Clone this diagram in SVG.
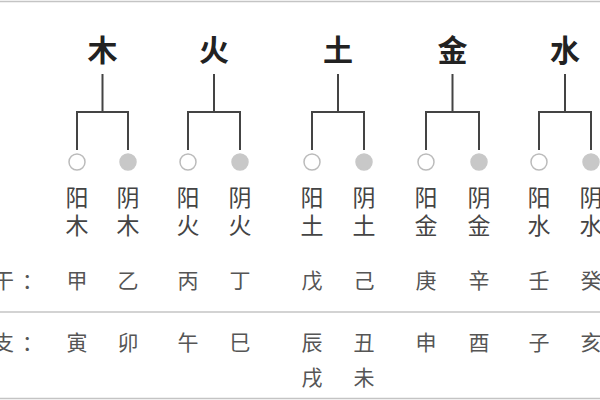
<svg xmlns="http://www.w3.org/2000/svg" width="600" height="400" viewBox="0 0 600 400">
<style>
.hd{font-family:"Noto Sans CJK SC","Noto Sans",sans-serif;font-weight:bold;font-size:30px;fill:#222;text-anchor:middle}
.yy{font-family:"Noto Sans CJK SC","Noto Sans",sans-serif;font-size:23px;fill:#444;text-anchor:middle}
.rw{font-family:"Noto Sans CJK SC","Noto Sans",sans-serif;font-size:21px;fill:#555;text-anchor:middle}
.lb{font-family:"Noto Sans CJK SC","Noto Sans",sans-serif;font-size:21px;fill:#555}
.ln{fill:none;stroke:#444;stroke-width:2}
.yang{fill:#fff;stroke:#bbb;stroke-width:1.5}
.yin{fill:#c8c8c8;stroke:#c8c8c8;stroke-width:1.5}
.rule{stroke:#c4c4c4;stroke-width:1.5}
</style>
<rect width="600" height="400" fill="#fff"/>
<line class="rule" x1="0" y1="1.5" x2="600" y2="1.5"/>
<line class="rule" x1="0" y1="398.5" x2="600" y2="398.5"/>
<line class="rule" x1="0" y1="312" x2="600" y2="312"/>

<g id="connectors">
<path class="ln" d="M102.5 74V112M77 150V112H128V150"/>
<path class="ln" d="M214 74V112M188 150V112H240V150"/>
<path class="ln" d="M338 74V112M312 150V112H364V150"/>
<path class="ln" d="M452.5 74V112M426 150V112H479V150"/>
<path class="ln" d="M565 74V112M539 150V112H591V150"/>
</g>

<g id="labels">
<text class="lb" x="-7" y="288">干<tspan dx="8">：</tspan></text>
<text class="lb" x="-7" y="350">支<tspan dx="8">：</tspan></text>
</g>

<g id="wood">
<text class="hd" x="102.5" y="61">木</text>
<circle class="yang" cx="77" cy="162" r="8"/>
<circle class="yin" cx="128" cy="162" r="8"/>
<text class="yy" x="77" y="206">阳</text><text class="yy" x="77" y="234">木</text>
<text class="yy" x="128" y="206">阴</text><text class="yy" x="128" y="234">木</text>
<text class="rw" x="77" y="288">甲</text><text class="rw" x="128" y="288">乙</text>
<text class="rw" x="77" y="350">寅</text><text class="rw" x="128" y="350">卯</text>
</g>

<g id="fire">
<text class="hd" x="214" y="61">火</text>
<circle class="yang" cx="188" cy="162" r="8"/>
<circle class="yin" cx="240" cy="162" r="8"/>
<text class="yy" x="188" y="206">阳</text><text class="yy" x="188" y="234">火</text>
<text class="yy" x="240" y="206">阴</text><text class="yy" x="240" y="234">火</text>
<text class="rw" x="188" y="288">丙</text><text class="rw" x="240" y="288">丁</text>
<text class="rw" x="188" y="350">午</text><text class="rw" x="240" y="350">巳</text>
</g>

<g id="earth">
<text class="hd" x="338" y="61">土</text>
<circle class="yang" cx="312" cy="162" r="8"/>
<circle class="yin" cx="364" cy="162" r="8"/>
<text class="yy" x="312" y="206">阳</text><text class="yy" x="312" y="234">土</text>
<text class="yy" x="364" y="206">阴</text><text class="yy" x="364" y="234">土</text>
<text class="rw" x="312" y="288">戊</text><text class="rw" x="364" y="288">己</text>
<text class="rw" x="312" y="350">辰</text><text class="rw" x="364" y="350">丑</text>
<text class="rw" x="312" y="385">戌</text><text class="rw" x="364" y="385">未</text>
</g>

<g id="metal">
<text class="hd" x="452.5" y="61">金</text>
<circle class="yang" cx="426" cy="162" r="8"/>
<circle class="yin" cx="479" cy="162" r="8"/>
<text class="yy" x="426" y="206">阳</text><text class="yy" x="426" y="234">金</text>
<text class="yy" x="479" y="206">阴</text><text class="yy" x="479" y="234">金</text>
<text class="rw" x="426" y="288">庚</text><text class="rw" x="479" y="288">辛</text>
<text class="rw" x="426" y="350">申</text><text class="rw" x="479" y="350">酉</text>
</g>

<g id="water">
<text class="hd" x="565" y="61">水</text>
<circle class="yang" cx="539" cy="162" r="8"/>
<circle class="yin" cx="591" cy="162" r="8"/>
<text class="yy" x="539" y="206">阳</text><text class="yy" x="539" y="234">水</text>
<text class="yy" x="591" y="206">阴</text><text class="yy" x="591" y="234">水</text>
<text class="rw" x="539" y="288">壬</text><text class="rw" x="591" y="288">癸</text>
<text class="rw" x="539" y="350">子</text><text class="rw" x="591" y="350">亥</text>
</g>
</svg>
